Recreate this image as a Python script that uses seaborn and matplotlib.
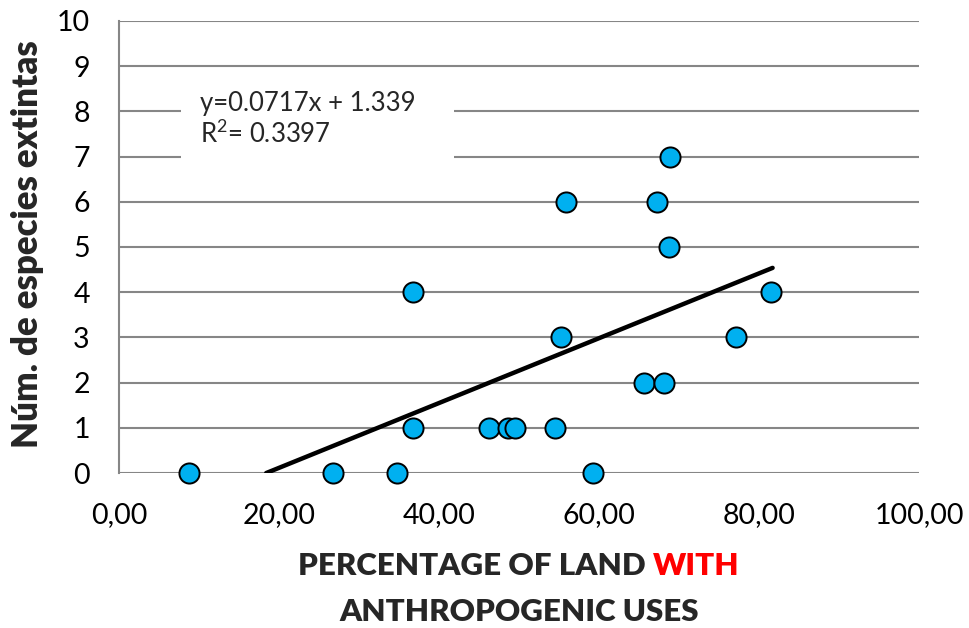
import matplotlib
matplotlib.use("Agg")
import matplotlib.pyplot as plt
import seaborn as sns
import pandas as pd
from matplotlib.patches import Rectangle
from matplotlib.ticker import FuncFormatter

# data
land_pct = [8.8, 26.7, 34.8, 59.3,
            36.8, 46.3, 48.6, 49.5, 54.5,
            65.6, 68.1,
            55.3, 77.1,
            36.8, 81.5,
            68.8,
            55.9, 67.3,
            68.9]
extinct = [0, 0, 0, 0,
           1, 1, 1, 1, 1,
           2, 2,
           3, 3,
           4, 4,
           5,
           6, 6,
           7]
trend_x = [18.4, 81.7]
slope = 0.0717
offset = -1.32
eq_text = "y=0.0717x + 1.339\nR$^2$= 0.3397"

sns.set_style("white")
plt.rcParams["font.family"] = ["Lato", "DejaVu Sans"]
plt.rcParams["mathtext.default"] = "regular"

df = pd.DataFrame({"x": land_pct, "y": extinct})
trend = pd.DataFrame({"x": trend_x, "y": [slope * v + offset for v in trend_x]})

fig = plt.figure(figsize=(9.69, 6.28), dpi=100)
ax = fig.add_axes([0.1228, 0.2468, 0.8256, 0.7198])

sns.lineplot(data=trend, x="x", y="y", color="black", linewidth=3.2, ax=ax, zorder=3)
sns.scatterplot(data=df, x="x", y="y", s=210, color="#00B0F0",
                edgecolor="black", linewidth=1.4, ax=ax, zorder=4, clip_on=False)

ax.set_xlim(0, 100)
ax.set_ylim(0, 10)
ax.set_xticks(range(0, 101, 20))
ax.set_yticks(range(0, 11))
ax.xaxis.set_major_formatter(FuncFormatter(lambda v, p: f"{v:.2f}".replace(".", ",")))
ax.tick_params(axis="both", length=0, labelsize=20.5, colors="black")
ax.tick_params(axis="y", pad=21)
ax.tick_params(axis="x", pad=21)

ax.grid(axis="y", color="#868686", linewidth=1.5)
ax.set_axisbelow(True)
for side in ["top", "right", "bottom"]:
    ax.spines[side].set_visible(False)
ax.spines["left"].set_color("#868686")
ax.spines["left"].set_linewidth(1.5)
ax.set_xlabel("")
ax.set_ylabel("")

# equation box
ax.add_patch(Rectangle((7.7, 6.6), 34.2, 1.9, facecolor="white", edgecolor="none", zorder=2))
ax.text(10.1, 8.45, eq_text, fontsize=18.5, va="top", ha="left", linespacing=1.2, zorder=5)

# axis titles
fig.text(28 / 969, 1 - 244 / 628, "Núm. de especies extintas", rotation=90,
         ha="center", va="center", fontsize=25, fontweight="heavy")

fig.canvas.draw()
renderer = fig.canvas.get_renderer()
part1 = fig.text(0, 1 - 566 / 628, "PERCENTAGE OF LAND ", fontsize=22.5,
                 fontweight="heavy", va="center", ha="left")
part2 = fig.text(0, 1 - 566 / 628, "WITH", fontsize=22.5, color="red",
                 fontweight="heavy", va="center", ha="left")
w1 = part1.get_window_extent(renderer).width
w2 = part2.get_window_extent(renderer).width
start = 519 - (w1 + w2) / 2
part1.set_x(start / 969)
part2.set_x((start + w1) / 969)
fig.text(519 / 969, 1 - 612 / 628, "ANTHROPOGENIC USES", fontsize=22.5,
         fontweight="heavy", va="center", ha="center")

fig.savefig("out.png", dpi=100)
